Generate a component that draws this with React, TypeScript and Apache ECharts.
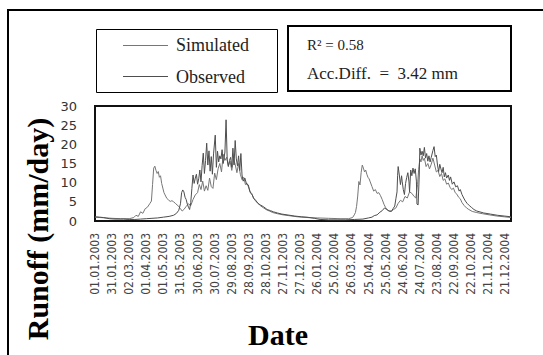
import React, { useEffect, useRef } from "react";
import * as echarts from "echarts";

const START_YEAR = 2003;
const DAY_MIN = 0;
const DAY_MAX = 730;
const DAY_STEP = 30;
const Y_TICKS = [0, 5, 10, 15, 20, 25, 30];

const seriesNames = ["Simulated", "Observed"];

// [day since 01.01.2003, runoff mm/day]
const simulated: [number, number][] = [
  [0, 1.0], [10, 0.9], [20, 0.8], [30, 0.7], [45, 0.6], [60, 0.6], [68, 0.9], [72, 1.5], [76, 1.2],
  [80, 2.4], [84, 2.0], [88, 3.2], [92, 3.6], [96, 4.5], [99, 5.2], [101, 9.5], [103, 13.8], [105, 14.3],
  [107, 13.2], [109, 12.4], [111, 12.9], [113, 11.4], [115, 11.8], [117, 9.8], [119, 8.6], [121, 7.4],
  [123, 6.8], [126, 5.9], [129, 5.5], [132, 5.1], [135, 5.3], [138, 5.0], [141, 4.6], [144, 4.2],
  [147, 3.8], [150, 3.2], [153, 2.6], [156, 3.0], [160, 3.8], [164, 4.5], [168, 4.0], [172, 5.6],
  [176, 6.8], [180, 7.4], [183, 9.5], [186, 8.2], [189, 10.4], [192, 7.8], [195, 9.2], [198, 8.0],
  [201, 11.2], [204, 9.0], [207, 8.5], [210, 12.5], [213, 10.8], [216, 13.6], [219, 15.0], [222, 12.8],
  [225, 17.4], [228, 15.8], [231, 16.6], [234, 14.4], [237, 15.6], [240, 13.2], [243, 16.2], [246, 14.8],
  [249, 12.6], [252, 15.0], [255, 12.2], [258, 10.8], [261, 11.4], [264, 9.5], [267, 9.8], [270, 8.6],
  [273, 7.2], [276, 6.8], [279, 5.8], [282, 5.2], [286, 4.6], [290, 4.0], [295, 3.5], [300, 3.0],
  [306, 2.6], [312, 2.2], [320, 1.9], [330, 1.6], [340, 1.4], [355, 1.1], [372, 0.9], [390, 0.8],
  [410, 0.7], [430, 0.6], [445, 0.6], [452, 0.9], [455, 1.6], [457, 2.2], [459, 3.8], [461, 6.5],
  [463, 10.3], [465, 9.4], [467, 12.6], [469, 14.6], [471, 13.8], [473, 12.8], [475, 13.3], [477, 12.2],
  [479, 11.4], [481, 11.0], [483, 10.2], [486, 9.0], [489, 7.8], [492, 8.2], [495, 7.2], [498, 7.4],
  [501, 6.6], [504, 5.6], [507, 4.4], [510, 3.5], [513, 2.9], [516, 2.6], [520, 2.6], [524, 3.0],
  [528, 3.4], [532, 4.6], [536, 5.4], [540, 5.0], [544, 6.4], [548, 6.0], [552, 7.6], [556, 7.2],
  [560, 6.4], [563, 6.0], [566, 9.5], [568, 13.5], [570, 16.2], [572, 15.4], [574, 17.0], [576, 15.8],
  [578, 16.4], [581, 14.2], [584, 15.0], [587, 13.6], [590, 14.8], [593, 16.4], [596, 14.6], [599, 12.8],
  [602, 13.2], [605, 11.6], [608, 12.4], [611, 10.6], [614, 11.0], [617, 9.6], [620, 9.9], [623, 8.8],
  [626, 8.2], [629, 8.6], [632, 7.4], [635, 7.0], [638, 6.2], [641, 5.8], [644, 4.8], [648, 4.0],
  [652, 3.4], [656, 3.0], [662, 2.5], [670, 2.2], [680, 1.9], [692, 1.6], [705, 1.3], [718, 1.1], [730, 0.9],
];

const observed: [number, number][] = [
  [0, 1.1], [8, 1.0], [15, 0.9], [25, 0.6], [35, 0.5], [50, 0.5], [60, 0.4], [70, 0.4], [80, 0.5],
  [90, 0.6], [100, 0.7], [110, 0.8], [120, 1.0], [130, 1.2], [138, 1.5], [143, 2.0], [147, 2.8],
  [150, 4.5], [152, 7.4], [154, 8.1], [156, 7.6], [158, 6.2], [160, 5.6], [162, 4.4], [164, 3.6],
  [166, 3.0], [168, 4.8], [170, 8.5], [172, 12.0], [174, 9.8], [176, 11.2], [178, 12.2], [180, 9.6],
  [182, 11.0], [184, 13.3], [186, 10.2], [188, 14.5], [190, 17.7], [192, 12.4], [194, 15.8], [196, 20.3],
  [198, 14.6], [200, 18.3], [202, 13.0], [204, 16.8], [206, 12.2], [208, 17.5], [211, 22.4], [213, 14.0],
  [215, 18.2], [217, 15.4], [219, 17.0], [221, 16.2], [223, 18.6], [225, 15.0], [228, 18.0], [230, 26.4],
  [232, 16.0], [234, 14.2], [236, 15.8], [238, 16.6], [240, 14.0], [242, 19.0], [244, 14.6], [246, 21.0],
  [248, 16.2], [250, 14.4], [252, 17.0], [254, 13.2], [256, 17.6], [258, 12.0], [260, 10.4], [263, 11.2],
  [266, 9.6], [269, 9.4], [272, 7.6], [275, 7.2], [278, 6.0], [282, 5.4], [286, 4.6], [290, 4.2],
  [296, 3.7], [302, 3.0], [308, 2.7], [313, 2.4], [320, 2.1], [328, 1.8], [337, 1.6], [350, 1.3],
  [362, 1.1], [372, 1.0], [385, 0.7], [395, 0.4], [410, 0.3], [425, 0.3], [440, 0.3], [455, 0.4],
  [470, 0.5], [480, 0.8], [486, 1.0], [490, 1.4], [495, 1.6], [500, 2.3], [504, 2.7], [508, 3.4],
  [512, 3.0], [516, 2.6], [520, 2.5], [523, 3.2], [526, 3.9], [528, 5.8], [530, 7.6], [531, 11.8],
  [532, 14.2], [534, 12.0], [536, 9.5], [538, 11.8], [539, 10.4], [541, 8.2], [543, 6.9], [545, 9.8],
  [547, 11.4], [549, 12.6], [551, 10.2], [552, 7.6], [554, 13.3], [556, 11.8], [558, 13.8], [560, 12.4],
  [562, 13.6], [564, 10.4], [565, 4.4], [567, 4.2], [569, 12.0], [570, 19.0], [572, 17.2], [574, 18.2],
  [576, 17.0], [578, 19.2], [580, 16.4], [582, 17.6], [584, 15.6], [586, 17.0], [588, 15.4], [590, 16.6],
  [593, 18.4], [595, 19.4], [597, 16.8], [599, 17.2], [601, 14.6], [603, 12.9], [605, 14.8], [607, 13.6],
  [609, 12.6], [611, 14.0], [613, 11.5], [615, 12.6], [617, 11.2], [620, 12.0], [622, 10.6], [624, 11.5],
  [627, 9.6], [630, 10.2], [633, 8.9], [636, 9.2], [639, 7.8], [641, 8.2], [644, 6.9], [647, 6.0],
  [650, 5.2], [653, 4.6], [657, 4.0], [661, 3.5], [665, 3.0], [670, 2.6], [682, 2.1], [694, 1.8],
  [706, 1.5], [718, 1.3], [730, 1.1],
];

const statsLines = ["R² = 0.58", "Acc.Diff.  =  3.42 mm"];
const yAxisTitle = "Runoff (mm/day)";
const xAxisTitle = "Date";

function dayLabel(d: number): string {
  const t = new Date(Date.UTC(START_YEAR, 0, 1) + Math.round(d) * 86400000);
  const dd = String(t.getUTCDate()).padStart(2, "0");
  const mm = String(t.getUTCMonth() + 1).padStart(2, "0");
  return `${dd}.${mm}.${t.getUTCFullYear()}`;
}

export default function App() {
  const ref = useRef<HTMLDivElement>(null);
  useEffect(() => {
    document.body.style.margin = "0";
    const chart = echarts.init(ref.current!, null, { renderer: "svg" });
    const serif = "'Liberation Serif', 'Times New Roman', serif";
    chart.setOption({
      animation: false,
      backgroundColor: "#ffffff",
      grid: {
        left: 95,
        top: 106,
        width: 416,
        height: 115,
        show: true,
        borderColor: "#111",
        borderWidth: 2,
        backgroundColor: "transparent",
      },
      xAxis: {
        type: "value",
        min: DAY_MIN,
        max: DAY_MAX,
        interval: DAY_STEP,
        axisLine: { show: false },
        axisTick: { show: false },
        splitLine: { show: false },
        axisLabel: {
          rotate: 90,
          margin: 12,
          showMaxLabel: false,
          fontSize: 12,
          fontFamily: "'Liberation Sans Narrow', 'DejaVu Sans Condensed', sans-serif",
          color: "#444",
          formatter: (v: number) => dayLabel(v),
        },
      },
      yAxis: {
        type: "value",
        min: Y_TICKS[0],
        max: Y_TICKS[Y_TICKS.length - 1],
        interval: 5,
        axisLine: { show: false },
        axisTick: { show: false },
        splitLine: { show: false },
        axisLabel: {
          margin: 18,
          fontSize: 13,
          fontFamily: "'DejaVu Sans', sans-serif",
          color: "#333",
        },
      },
      series: [
        {
          name: seriesNames[0],
          type: "line",
          data: simulated,
          showSymbol: false,
          lineStyle: { color: "#767676", width: 1 },
        },
        {
          name: seriesNames[1],
          type: "line",
          data: observed,
          showSymbol: false,
          lineStyle: { color: "#4e4e4e", width: 1 },
        },
      ],
      graphic: [
        {
          type: "rect",
          shape: { x: 8, y: 10, width: 560, height: 370 },
          style: { fill: "none", stroke: "#000", lineWidth: 2 },
        },
        {
          type: "rect",
          shape: { x: 96.5, y: 29.5, width: 181, height: 63 },
          style: { fill: "none", stroke: "#000", lineWidth: 1 },
        },
        {
          type: "line",
          shape: { x1: 123, y1: 45.5, x2: 168, y2: 45.5 },
          style: { stroke: "#767676", lineWidth: 1 },
        },
        {
          type: "line",
          shape: { x1: 123, y1: 76.5, x2: 168, y2: 76.5 },
          style: { stroke: "#4e4e4e", lineWidth: 1 },
        },
        {
          type: "text",
          x: 176,
          y: 45,
          style: { text: seriesNames[0], font: `18px ${serif}`, fill: "#222", align: "left", verticalAlign: "middle" },
        },
        {
          type: "text",
          x: 176,
          y: 77,
          style: { text: seriesNames[1], font: `18px ${serif}`, fill: "#222", align: "left", verticalAlign: "middle" },
        },
        {
          type: "rect",
          shape: { x: 288, y: 26, width: 223, height: 65 },
          style: { fill: "none", stroke: "#000", lineWidth: 2 },
        },
        {
          type: "text",
          x: 307,
          y: 45,
          style: { text: statsLines[0], font: `15px ${serif}`, fill: "#222", align: "left", verticalAlign: "middle" },
        },
        {
          type: "text",
          x: 307,
          y: 73,
          style: { text: statsLines[1], font: `17px ${serif}`, fill: "#222", align: "left", verticalAlign: "middle" },
        },
        {
          type: "text",
          x: 37,
          y: 229,
          rotation: Math.PI / 2,
          style: { text: yAxisTitle, font: `bold 30px ${serif}`, fill: "#000", align: "center", verticalAlign: "middle" },
        },
        {
          type: "text",
          x: 278,
          y: 334,
          style: { text: xAxisTitle, font: `bold 30px ${serif}`, fill: "#000", align: "center", verticalAlign: "middle" },
        },
      ],
    });
    return () => chart.dispose();
  }, []);
  return <div ref={ref} style={{ position: "fixed", left: 0, top: 0, width: 543, height: 355 }} />;
}
